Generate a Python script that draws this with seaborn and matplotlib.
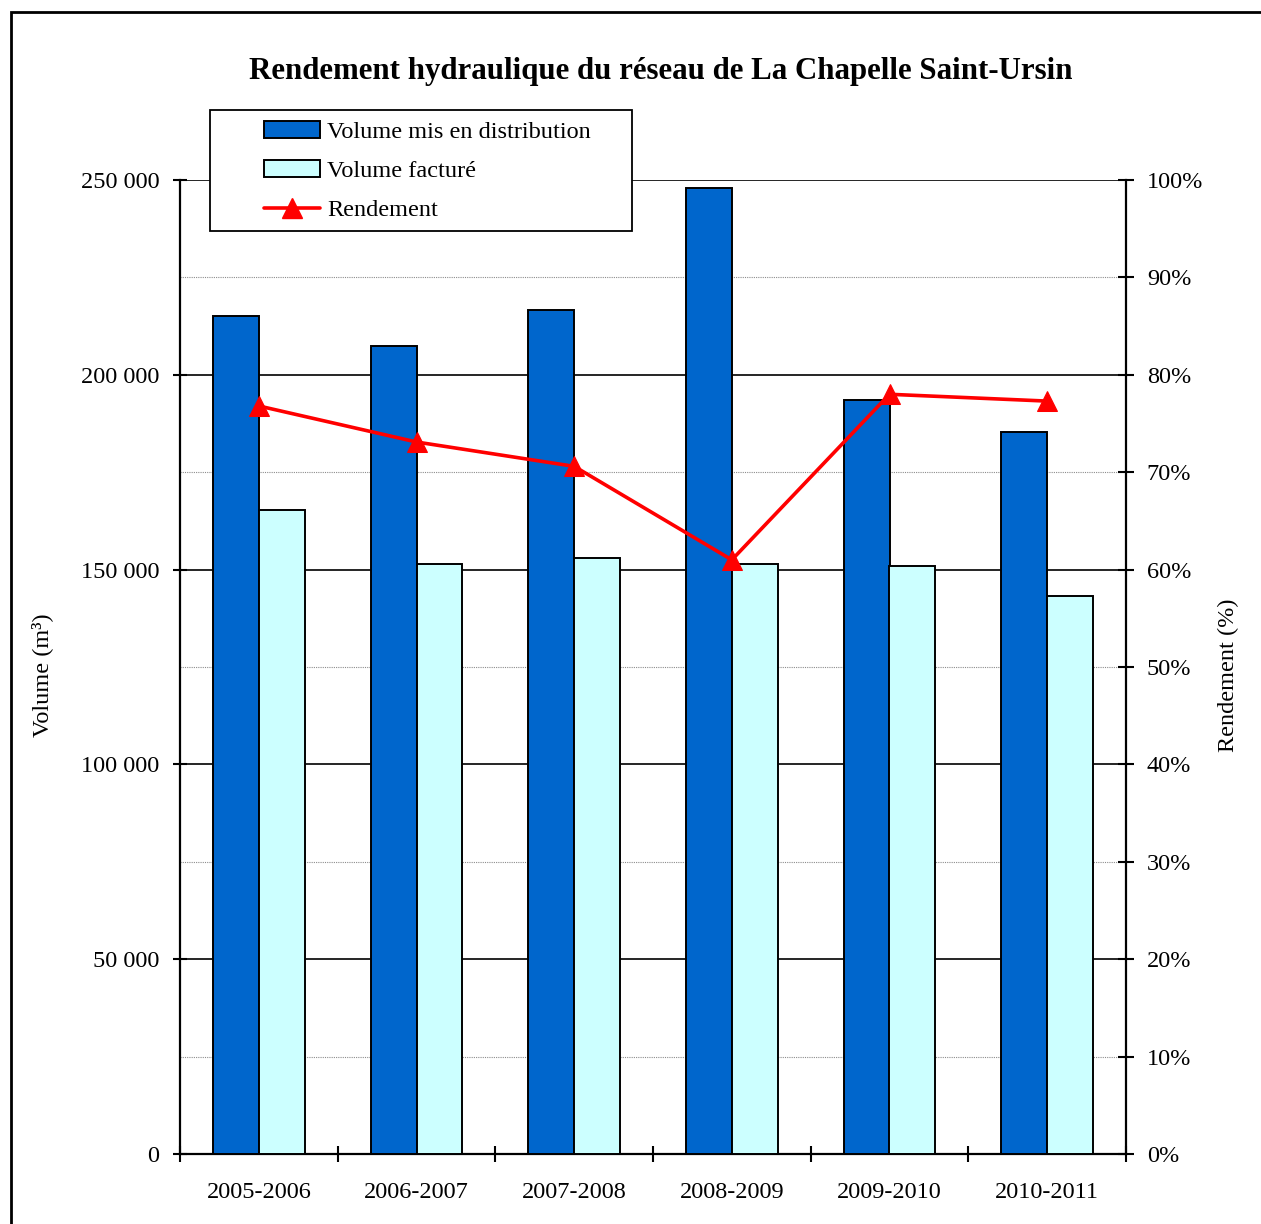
import numpy as np
import pandas as pd
import seaborn as sns
import matplotlib
matplotlib.use("Agg")
import matplotlib.pyplot as plt
from matplotlib.patches import Patch, Rectangle
from matplotlib.lines import Line2D
from matplotlib.ticker import MultipleLocator, FuncFormatter, FixedLocator

# Données du réseau
saisons = ["2005-2006", "2006-2007", "2007-2008", "2008-2009", "2009-2010", "2010-2011"]
volume_distribue = [215100, 207400, 216600, 247900, 193500, 185300]
volume_facture = [165300, 151400, 153000, 151400, 150900, 143200]
rendement = [76.8, 73.1, 70.6, 61.0, 78.0, 77.3]

serie_labels = ["Volume mis en distribution", "Volume facturé", "Rendement"]
couleur_distribue = "#0066CC"
couleur_facture = "#CCFFFF"
couleur_rendement = "#FF0000"

sns.set_theme(style="white")
plt.rcParams["font.family"] = ["Liberation Serif", "DejaVu Serif"]
plt.rcParams["text.color"] = "black"
plt.rcParams["axes.labelcolor"] = "black"

df = pd.DataFrame({
    "Saison": saisons * 2,
    "Volume": volume_distribue + volume_facture,
    "Série": [serie_labels[0]] * len(saisons) + [serie_labels[1]] * len(saisons),
})

fig = plt.figure(figsize=(12.61, 12.24), dpi=100)
ax = fig.add_axes([180 / 1261, 1 - 1154 / 1224, (1126 - 180) / 1261, (1154 - 180) / 1224])

sns.barplot(data=df, x="Saison", y="Volume", hue="Série",
            palette=[couleur_distribue, couleur_facture], saturation=1,
            width=0.58, edgecolor="black", linewidth=1.4, ax=ax, legend=False,
            zorder=3)

ax.set_xlim(-0.5, len(saisons) - 0.5)
ax.set_ylim(0, 250000)
ax.set_xlabel("")
ax.set_ylabel("")
ax.set_axisbelow(True)

# Grille : traits pleins tous les 50 000, pointillés gris entre deux
ax.yaxis.set_major_locator(MultipleLocator(50000))
ax.yaxis.set_minor_locator(MultipleLocator(25000))
ax.grid(True, which="major", axis="y", color="black", linewidth=1.2, linestyle="-")
ax.grid(True, which="minor", axis="y", color="#8c8c8c", linewidth=0.8, linestyle=(0, (1, 1)))
ax.grid(False, axis="x")
ax.yaxis.set_major_formatter(FuncFormatter(lambda v, p: f"{int(v):,}".replace(",", " ")))
ax.tick_params(axis="y", which="major", direction="inout", length=10, width=1.5,
               labelsize=17.5, pad=10, left=True, colors="black")
ax.tick_params(axis="y", which="minor", length=0)

ax.set_xticks(np.arange(len(saisons)))
ax.set_xticklabels(saisons)
ax.xaxis.set_minor_locator(FixedLocator(np.arange(-0.5, len(saisons), 1.0)))
ax.tick_params(axis="x", which="major", length=0, labelsize=17.5, pad=20, colors="black")
ax.tick_params(axis="x", which="minor", direction="inout", length=12, width=1.5, bottom=True,
               colors="black")

for side in ["left", "right", "bottom"]:
    ax.spines[side].set_color("black")
    ax.spines[side].set_linewidth(1.6)
ax.spines["top"].set_visible(False)

# Axe secondaire : rendement
ax2 = ax.twinx()
sns.lineplot(x=np.arange(len(saisons)), y=rendement, ax=ax2, color=couleur_rendement,
             linewidth=2.6, marker="^", markersize=15, markeredgecolor=couleur_rendement,
             zorder=5)
ax2.set_ylim(0, 100)
ax2.set_xlim(-0.5, len(saisons) - 0.5)
ax2.set_ylabel("")
ax2.yaxis.set_major_locator(MultipleLocator(10))
ax2.yaxis.set_major_formatter(FuncFormatter(lambda v, p: f"{int(round(v))}%"))
ax2.tick_params(axis="y", direction="inout", length=12, width=1.5, labelsize=17.5, pad=9,
                right=True, colors="black")
for side in ["left", "right", "bottom", "top"]:
    ax2.spines[side].set_visible(False)

# Titres
fig.text(661 / 1261, 1 - 71 / 1224, "Rendement hydraulique du réseau de La Chapelle Saint-Ursin",
         ha="center", va="center", fontsize=22.2, fontweight="bold", color="black")
fig.text(42 / 1261, 1 - 675 / 1224, "Volume (m³)", rotation=90, ha="center", va="center",
         fontsize=17.5, color="black")
fig.text(1228 / 1261, 1 - 675 / 1224, "Rendement (%)", rotation=90, ha="center", va="center",
         fontsize=17.5, color="black")

# Cadre de la légende
fig.patches.append(Rectangle((210 / 1261, 1 - 231 / 1224), (632 - 210) / 1261, (231 - 110) / 1224,
                             transform=fig.transFigure, facecolor="white", edgecolor="black",
                             linewidth=1.3, zorder=5))

handles = [
    Patch(facecolor=couleur_distribue, edgecolor="black", linewidth=1.4),
    Patch(facecolor=couleur_facture, edgecolor="black", linewidth=1.4),
    Line2D([], [], color=couleur_rendement, linewidth=2.6, marker="^", markersize=15),
]
leg = fig.legend(handles, serie_labels, loc="upper left",
                 bbox_to_anchor=(264 / 1261, 1 - 121 / 1224), frameon=False,
                 fontsize=17.5, handlelength=2.3, handletextpad=0.3, labelspacing=0.7,
                 borderpad=0, borderaxespad=0)
leg.set_zorder(6)
for t in leg.get_texts():
    t.set_color("black")

# Cadre extérieur
fig.patches.append(Rectangle((11 / 1261, -0.1), 1.2, 1.1 - 12 / 1224, transform=fig.transFigure,
                             fill=False, edgecolor="black", linewidth=2, clip_on=False, zorder=1))

fig.savefig("out.png", dpi=100)
